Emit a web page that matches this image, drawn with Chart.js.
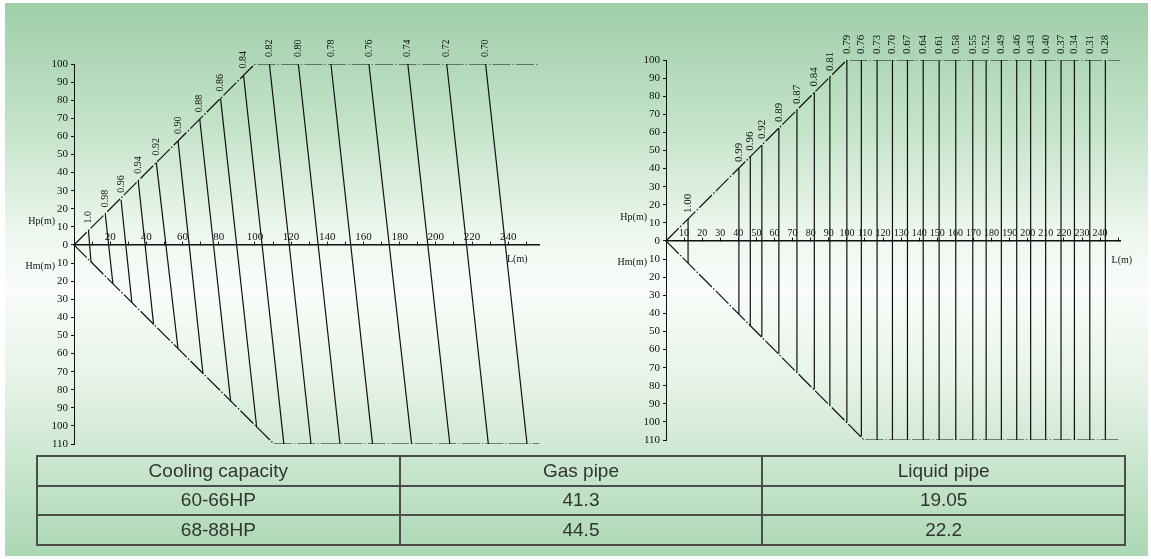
<!DOCTYPE html>
<html>
<head>
<meta charset="utf-8">
<script src="https://cdn.jsdelivr.net/npm/chart.js@4.4.1/dist/chart.umd.min.js"></script>
<style>
  body { margin: 0; width: 1151px; height: 559px; background: #fff; overflow: hidden; position: relative; }
  #panel {
    position: absolute; left: 5px; top: 3px; width: 1143px; height: 553px;
    background: linear-gradient(to bottom, #9fcea9 0%, #c3e3c8 22%, #eef7ef 42%, #f9fcf9 52%, #e7f3e8 68%, #c6e5cb 85%, #acd8b4 100%);
  }
  canvas { position: absolute; top: 0; }
  #leftChart { left: 0; }
  #rightChart { left: 580px; }
  table {
    position: absolute; left: 36px; top: 455px; width: 1090px; height: 91px;
    border-collapse: collapse; font-family: "Liberation Sans", Arial, sans-serif;
    font-size: 19px; color: #333; table-layout: fixed;
  }
  td { border: 2px solid #4d4d4d; text-align: center; padding: 0; }
</style>
</head>
<body>
<div id="panel"></div>
<canvas id="leftChart" width="575" height="460"></canvas>
<canvas id="rightChart" width="571" height="460"></canvas>
<table>
  <tr><td>Cooling capacity</td><td>Gas pipe</td><td>Liquid pipe</td></tr>
  <tr><td>60-66HP</td><td>41.3</td><td>19.05</td></tr>
  <tr><td>68-88HP</td><td>44.5</td><td>22.2</td></tr>
</table>
<script>
// Left chart: slanted correction lines (L in m, H in m)
const leftLabels  = ["1.0", "0.98", "0.96", "0.94", "0.92", "0.90", "0.88", "0.86", "0.84", "0.82", "0.80", "0.78", "0.76", "0.74", "0.72", "0.70"];
const leftTopL    = [8, 17.3, 26, 35.5, 45.5, 57.5, 69.5, 81, 93.7, 108, 124, 142, 163, 184.5, 206, 227.5];
const leftTopH    = [8, 17, 25, 35.5, 45.5, 57.5, 69.5, 81, 93.7, 100, 100, 100, 100, 100, 100, 100];
const leftBottomL = [9.4, 21.5, 32, 44, 57.5, 71.3, 86.6, 101, 116, 131, 147, 165, 186.6, 207.7, 229, 250.4];
const leftBottomH = [-9.4, -21.5, -32, -44, -57.5, -71.3, -86.6, -101, -110, -110, -110, -110, -110, -110, -110, -110];
const leftUpperL = [0, 100, 257];
const leftUpperH = [0, 100, 100];
const leftLowerL = [0, 110.5, 257];
const leftLowerH = [0, -110, -110];

// Right chart: vertical correction lines
const rightLabels  = ["1.00", "0.99", "0.96", "0.92", "0.89", "0.87", "0.84", "0.81", "0.79", "0.76", "0.73", "0.70", "0.67", "0.64", "0.61", "0.58", "0.55", "0.52", "0.49", "0.46", "0.43", "0.40", "0.37", "0.34", "0.31", "0.28"];
const rightL       = [12.2, 40.3, 46.6, 53, 62.4, 72.4, 82, 90.6, 100, 108, 116.7, 125.2, 133.5, 142.2, 151, 160.2, 169.6, 177, 185.4, 193.9, 201.6, 209.9, 218.4, 225.8, 234.3, 242.9];
const rightTopH    = [12.2, 40.3, 46.6, 53, 62.4, 72.4, 82, 90.6, 100, 100, 100, 100, 100, 100, 100, 100, 100, 100, 100, 100, 100, 100, 100, 100, 100, 100];
const rightBottomH = [-12.2, -40.3, -46.6, -53, -62.4, -72.4, -82, -90.6, -100, -108, -110, -110, -110, -110, -110, -110, -110, -110, -110, -110, -110, -110, -110, -110, -110, -110];
const rightUpperL = [0, 100, 251];
const rightUpperH = [0, 100, 100];
const rightLowerL = [0, 109.5, 251];
const rightLowerH = [0, -110, -110];

const SERIF = '"Liberation Serif", "DejaVu Serif", serif';

function pts(xs, ys) { return xs.map((x, i) => ({ x, y: ys[i] })); }

function buildDatasets(topL, topH, botL, botH, upL, upH, loL, loH) {
  const ds = topL.map((l, i) => ({
    data: [{ x: l, y: topH[i] }, { x: botL[i], y: botH[i] }],
    borderColor: "#111", borderWidth: 1.2, pointRadius: 0, showLine: true
  }));
  [[upL, upH], [loL, loH]].forEach(([xs, ys]) => ds.push({
    data: pts(xs, ys), borderColor: "#111", borderWidth: 1.2, pointRadius: 0, showLine: true,
    borderDash: [18, 2, 1.5, 2]
  }));
  return ds;
}

function labelPlugin(labels, xs, ys, font, gap, lAt, lDrop) {
  return {
    id: "curveLabels",
    afterDatasetsDraw(chart) {
      const { ctx, scales: { x, y } } = chart;
      ctx.save();
      ctx.fillStyle = "#111";
      ctx.font = font;
      labels.forEach((txt, i) => {
        ctx.save();
        ctx.translate(x.getPixelForValue(xs[i]), y.getPixelForValue(ys[i]) - gap);
        ctx.rotate(-Math.PI / 2);
        ctx.textAlign = "left";
        ctx.textBaseline = "middle";
        ctx.fillText(txt, 0, 0);
        ctx.restore();
      });
      ctx.font = "10px " + SERIF;
      ctx.textAlign = "right";
      ctx.textBaseline = "middle";
      ctx.fillText("Hp(m)", x.left - 19, y.getPixelForValue(13));
      ctx.fillText("Hm(m)", x.left - 19, y.getPixelForValue(-12));
      ctx.textAlign = "center";
      ctx.fillText("L(m)", x.getPixelForValue(lAt), y.getPixelForValue(0) + lDrop);
      ctx.restore();
    }
  };
}

function makeChart(id, datasets, xMax, labelStep, lastLabel, tickFont, tickPad, pad, plugin) {
  return new Chart(document.getElementById(id), {
    type: "scatter",
    data: { datasets },
    options: {
      responsive: false, animation: false, events: [],
      layout: { padding: pad },
      plugins: { legend: { display: false }, tooltip: { enabled: false } },
      scales: {
        x: {
          type: "linear", min: 0, max: xMax, position: { y: 0 },
          afterFit: (s) => { s.height = 0; },
          border: { display: true, color: "#111", width: 1.6 },
          grid: { drawOnChartArea: false, drawTicks: true, tickLength: -4, color: "#111" },
          ticks: {
            stepSize: 10, includeBounds: false, autoSkip: false, maxRotation: 0,
            padding: tickPad, color: "#111", font: { family: SERIF, size: tickFont },
            callback: (v) => (v > 0 && v <= lastLabel && v % labelStep === 0) ? String(v) : ""
          }
        },
        y: {
          type: "linear", min: -110, max: 100, position: "left",
          afterFit: (s) => { s.width = 40; },
          border: { display: true, color: "#111", width: 1 },
          grid: { drawOnChartArea: false, drawTicks: true, tickLength: 3, color: "#111" },
          ticks: {
            stepSize: 10, padding: 3, color: "#111", font: { family: SERIF, size: 11 },
            callback: (v) => String(Math.abs(v))
          }
        }
      }
    },
    plugins: [plugin]
  });
}

makeChart("leftChart",
  buildDatasets(leftTopL, leftTopH, leftBottomL, leftBottomH, leftUpperL, leftUpperH, leftLowerL, leftLowerH),
  257, 20, 240, 11, -10, { left: 34, top: 64, right: 36, bottom: 16 },
  labelPlugin(leftLabels, leftTopL, leftTopH, "10px " + SERIF, 7, 245, 14));

makeChart("rightChart",
  buildDatasets(rightL, rightTopH, rightL, rightBottomH, rightUpperL, rightUpperH, rightLowerL, rightLowerH),
  251, 10, 240, 10, -9.5, { left: 46, top: 60, right: 31, bottom: 20 },
  labelPlugin(rightLabels, rightL, rightTopH, "11px " + SERIF, 6, 252, 19));
</script>
</body>
</html>
